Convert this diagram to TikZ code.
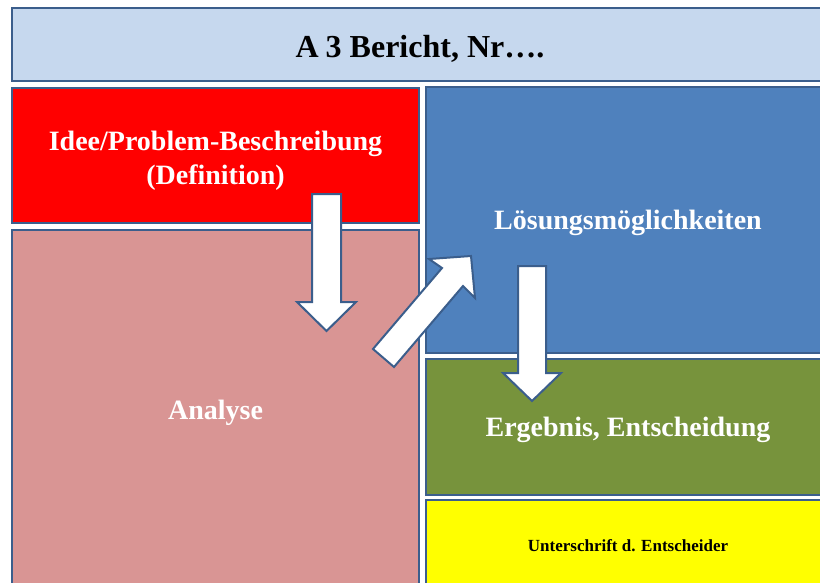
\documentclass[tikz,border=0pt]{standalone}
\usepackage{fontspec}
\setmainfont{Liberation Serif}
\definecolor{bordc}{HTML}{3B5E8C}
\definecolor{titlec}{HTML}{C6D8EE}
\definecolor{redc}{HTML}{FF0000}
\definecolor{pinkc}{HTML}{D99594}
\definecolor{bluec}{HTML}{4F81BD}
\definecolor{greenc}{HTML}{77933C}
\definecolor{yellowc}{HTML}{FFFF00}
\begin{document}
\begin{tikzpicture}[x=1pt,y=-1pt,
  box/.style={draw=bordc,line width=2pt,rectangle,inner sep=0pt,outer sep=0pt},
  lbl/.style={inner sep=0pt,align=center,text=white},
  bigtext/.style={font=\fontsize{28}{34}\selectfont\bfseries},
  blockarrow/.style={draw=bordc,line width=2pt,fill=white,line join=miter}]
\useasboundingbox (0,0) rectangle (820,582);
\clip (0,0) rectangle (820,582);
\fill[white] (0,0) rectangle (820,582);
% boxes
\node[box,fill=titlec,line width=2.8pt,minimum width=816pt,minimum height=73pt] (title) at (420,44.5) {};
\node[box,fill=redc,minimum width=407pt,minimum height=135pt] (idee) at (215.5,155.5) {};
\node[box,fill=pinkc,minimum width=407pt,minimum height=360pt] (analyse) at (215.5,410) {};
\node[box,fill=bluec,minimum width=404pt,minimum height=266pt] (loesung) at (628,220) {};
\node[box,fill=greenc,minimum width=404pt,minimum height=136pt] (ergebnis) at (628,427) {};
\node[box,fill=yellowc,minimum width=404pt,minimum height=90pt] (unterschrift) at (628,545) {};
% texts
\node[lbl,text=black,font=\fontsize{32}{36}\selectfont\bfseries] (titletext)
  at ([yshift=-4pt]title.center) {A\kern-1pt{} 3 Bericht, Nr….};
\node[lbl,bigtext] (ideetext) at ([yshift=-5pt]idee.center) {Idee/Problem-Beschreibung\\(Definition)};
\node[lbl,bigtext] (analysetext) at ([yshift=-3pt]analyse.center) {Analyse};
\node[lbl,bigtext] (loesungtext) at ([yshift=-3pt]loesung.center) {Lösungsmöglichkeiten};
\node[lbl,bigtext] (ergebnistext) at ([yshift=-3pt]ergebnis.center) {Ergebnis, Entscheidung};
\node[lbl,text=black,font=\fontsize{17}{20}\selectfont\bfseries] (unterschrifttext)
  at ([yshift=-1pt]unterschrift.center) {Unterschrift d. Entscheider};
% block arrows
\draw[blockarrow] (312,194) -- (341,194) -- (341,302) -- (356,302) -- (326.5,331)
  -- (297,302) -- (312,302) -- cycle;
\draw[blockarrow] (373,349) -- (442,268) -- (429,259) -- (471,256) -- (475,298)
  -- (463,286) -- (394,367) -- cycle;
\draw[blockarrow] (518,266) -- (546,266) -- (546,373) -- (561,373) -- (532,401)
  -- (503,373) -- (518,373) -- cycle;
\end{tikzpicture}
\end{document}
